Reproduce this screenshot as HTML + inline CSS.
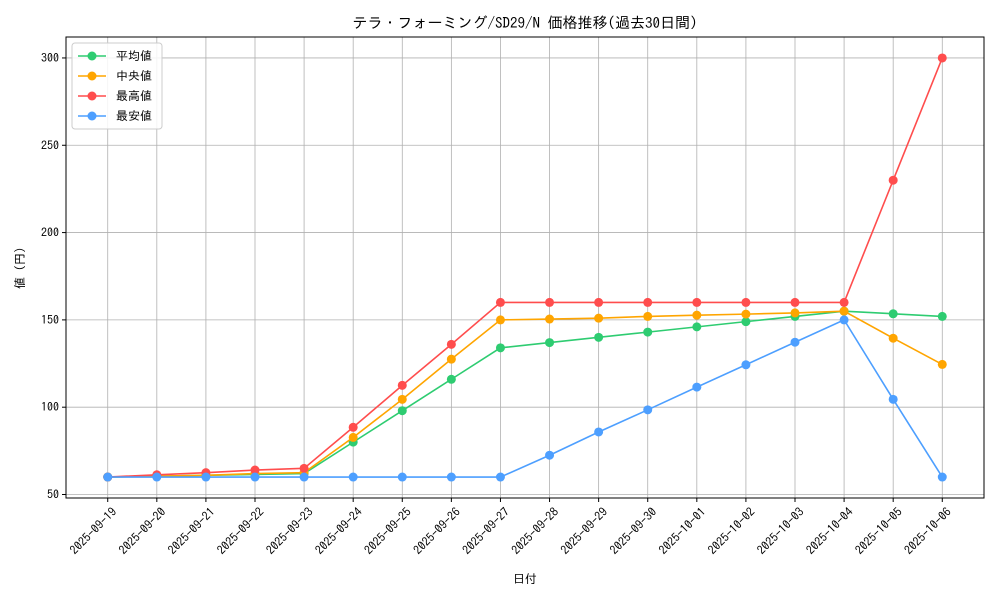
<!DOCTYPE html>
<html><head><meta charset="utf-8"><style>
body{margin:0;background:#fff;}
svg text{font-family:"IPAGothic","Noto Sans CJK JP",sans-serif;fill:#000;}
</style></head><body>
<svg id="chart" width="1000" height="600" xmlns="http://www.w3.org/2000/svg">
<rect width="1000" height="600" fill="#fff"/>
<text x="525" y="28" font-size="15" text-anchor="middle">テラ・フォーミング/SD29/N 価格推移(過去30日間)</text>
<g id="grid"></g><g id="axes"></g><g id="series"></g><g id="legend"></g>
<text x="525" y="583" font-size="12" text-anchor="middle">日付</text>
<text transform="translate(24,268) rotate(-90)" font-size="12" text-anchor="middle">値 (円)</text>
</svg>
<script>
const dates=["2025-09-19","2025-09-20","2025-09-21","2025-09-22","2025-09-23","2025-09-24","2025-09-25","2025-09-26","2025-09-27","2025-09-28","2025-09-29","2025-09-30","2025-10-01","2025-10-02","2025-10-03","2025-10-04","2025-10-05","2025-10-06"];
const avgVals=[60,60.5,61,61.5,62,80,98,116,134,137,140,143,146,149,152,155,153.5,152];
const medVals=[60,60.5,61,62,62.5,82.7,104.5,127.5,150,150.5,151,152,152.7,153.3,154,155,139.5,124.5];
const maxVals=[60,61.3,62.5,64,65,88.5,112.5,136,160,160,160,160,160,160,160,160,230,300];
const minVals=[60,60,60,60,60,60,60,60,60,72.5,85.8,98.5,111.5,124.3,137.2,150,104.5,60];
const yTicks=[50,100,150,200,250,300];
const seriesNames=["平均値","中央値","最高値","最安値"];
const L=66,R=984,T=37,B=498,ymin=48,ymax=312,xmin=-0.85,xmax=17.85;
const xs=i=>L+(i-xmin)/(xmax-xmin)*(R-L);
const ys=v=>B-(v-ymin)/(ymax-ymin)*(B-T);
const NS="http://www.w3.org/2000/svg";
function mk(t,a,p){const e=document.createElementNS(NS,t);for(const k in a)e.setAttribute(k,a[k]);p.appendChild(e);return e;}
const grid=document.getElementById('grid'),axes=document.getElementById('axes'),ser=document.getElementById('series'),leg=document.getElementById('legend');
dates.forEach((d,i)=>{const x=xs(i);
 const g=mk('line',{x1:x,x2:x,y1:T,y2:B,stroke:'#b0b0b0','stroke-width':0.8},grid);
 
 
 mk('line',{x1:x,x2:x,y1:B,y2:B+4,stroke:'#000'},axes);
 const t=mk('text',{transform:`translate(${x+4},${B+9}) rotate(-45)`,'font-size':12,'text-anchor':'end','dominant-baseline':'hanging'},axes);
 t.textContent=d;
 
 
});
yTicks.forEach(v=>{const y=ys(v);
 const g=mk('line',{x1:L,x2:R,y1:y,y2:y,stroke:'#b0b0b0','stroke-width':0.8},grid);
 
 
 mk('line',{x1:L-4,x2:L,y1:y,y2:y,stroke:'#000'},axes);
 const t=mk('text',{x:L-7,y:y+4,'font-size':12,'text-anchor':'end'},axes);
 t.textContent=v;
 
 
});
const fr=mk('rect',{x:L,y:T,width:R-L,height:B-T,fill:'none',stroke:'#000','stroke-width':1},axes);


const series=[[avgVals,'#2ecc71','average-line'],[medVals,'#ffa500','median-line'],[maxVals,'#ff4d4d','max-line'],[minVals,'#4d9fff','min-line']];
series.forEach(([vals,c,name])=>{
 const g=mk('g',{},ser);
 
 
 mk('polyline',{points:vals.map((v,i)=>xs(i)+','+ys(v)).join(' '),fill:'none',stroke:c,'stroke-width':1.6},g);
 vals.forEach((v,i)=>{const p=mk('circle',{cx:xs(i),cy:ys(v),r:4.5,fill:c},g);
  
  });
});
const lb=mk('rect',{x:72,y:43,width:90,height:86,rx:3,fill:'#fff','fill-opacity':0.85,stroke:'#ccc'},leg);


seriesNames.forEach((n,i)=>{const y=56+i*20,c=series[i][1];
 const g=mk('g',{},leg);
 
 
 mk('line',{x1:78,x2:106,y1:y,y2:y,stroke:c,'stroke-width':1.6},g);
 mk('circle',{cx:92,cy:y,r:4.5,fill:c},g);
 const t=mk('text',{x:116,y:y+4,'font-size':12},g);t.textContent=n;
});
</script>
</body></html>
